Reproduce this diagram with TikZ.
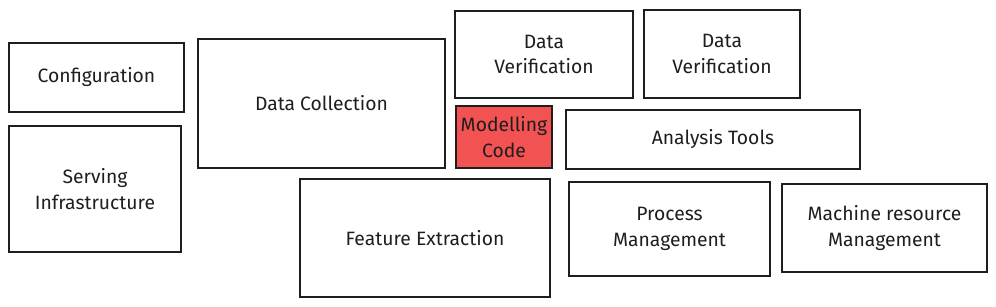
\documentclass[tikz,border=0pt]{standalone}
\usepackage{fontspec}
\setmainfont{Fira Sans}
\usepackage{xcolor}
\usepackage{tikz}
\usetikzlibrary{positioning}

\definecolor{inkcol}{HTML}{1E1E1E}
\definecolor{redfill}{HTML}{F25252}

\begin{document}
\begin{tikzpicture}[
    x=0.02cm, y=-0.02cm,
    block/.style={draw=inkcol, line width=1pt, align=center, inner sep=0pt, font=\fontsize{11}{14.5}\selectfont, text=inkcol},
    hotblock/.style={block, fill=redfill}
]
\useasboundingbox (0,0) rectangle (996,307);

% Left column
\node[block, minimum width=3.5cm, minimum height=1.38cm] (config) at (96.5,77.5) {Configuration};
\node[block, minimum width=3.44cm, minimum height=2.52cm] (serving) at (95,189) {Serving\\Infrastructure};

% Middle
\node[block, minimum width=4.94cm, minimum height=2.58cm] (collect) at (321.5,103.5) {Data Collection};
\node[block, minimum width=5cm, minimum height=2.36cm] (feature) at (425,238) {Feature Extraction};

% Top row right
\node[block, minimum width=3.56cm, minimum height=1.74cm] (verifyA) at (544,54.5) {Data\\Verification};
\node[block, minimum width=3.12cm, minimum height=1.76cm] (verifyB) at (722,54) {Data\\Verification};

% Modelling code and tools
\node[hotblock, minimum width=1.92cm, minimum height=1.24cm] (model) at (504,137) {Modelling\\Code};
\node[block, minimum width=5.88cm, minimum height=1.18cm] (tools) at (713,139.5) {Analysis Tools};

% Bottom row right
\node[block, minimum width=4.02cm, minimum height=1.88cm] (process) at (669.5,229) {Process\\Management};
\node[block, minimum width=4.1cm, minimum height=1.76cm] (machine) at (884.5,228) {Machine resource\\Management};

\end{tikzpicture}
\end{document}
